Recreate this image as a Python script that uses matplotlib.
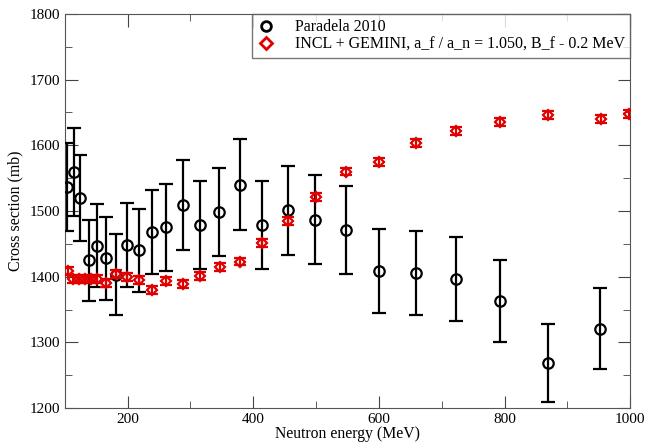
import matplotlib
matplotlib.use("Agg")
import matplotlib.pyplot as plt
from matplotlib.lines import Line2D
from matplotlib.ticker import MultipleLocator

plt.rcParams["font.family"] = ["Liberation Serif", "DejaVu Serif"]

# Paradela 2010 (measured)
exp_energy = [104, 115, 125, 139, 151, 166, 181.5, 198.5, 217.6, 239, 262, 288, 316,
              345.5, 379, 414, 456, 498.7, 547.6, 600, 659, 722, 792.6, 869, 952.7]
exp_xs = [1536, 1559, 1520, 1425, 1447, 1428, 1403, 1448, 1440, 1468, 1475, 1509, 1478,
          1499, 1540, 1478, 1501, 1487, 1471, 1409, 1406, 1397, 1363, 1269, 1321]
exp_err = [67, 67, 65, 62, 63, 63, 62, 64, 63, 64, 66, 68, 67,
           67, 69, 67, 68, 68, 67, 64, 64, 64, 63, 59, 62]

# INCL + GEMINI (calculation)
calc_energy = [104.6, 113.5, 122.6, 132, 142, 151, 165, 181.5, 198.5, 218, 239, 262, 288,
               316, 346.5, 379, 414, 456, 500, 547.6, 601, 659, 722.5, 792.6, 868.6, 953, 997.5]
calc_xs = [1408, 1397, 1397, 1397, 1396, 1396, 1390, 1404, 1399, 1395, 1380, 1393, 1389,
           1401, 1415, 1423, 1451, 1485, 1521, 1560, 1574, 1603, 1622, 1635, 1646, 1640, 1648]
calc_err = [6] * len(calc_energy)

labels = ["Paradela 2010", "INCL + GEMINI, a_f / a_n = 1.050, B_f - 0.2 MeV"]
red = "#e00000"

fig = plt.figure(figsize=(6.47, 4.46), dpi=100)
ax = fig.add_axes([0.1, 0.085, 0.874, 0.884])

ax.errorbar(exp_energy, exp_xs, yerr=exp_err, fmt="o", mfc="none", mec="black",
            ms=7.5, mew=1.6, ecolor="black", elinewidth=1.6, capsize=5, capthick=1.6,
            zorder=3)
ax.errorbar(calc_energy, calc_xs, yerr=calc_err, fmt="D", mfc="none", mec=red,
            ms=5.5, mew=1.6, ecolor=red, elinewidth=1.6, capsize=4, capthick=1.6,
            zorder=4)

ax.set_xlim(100, 1000)
ax.set_ylim(1200, 1800)
ax.xaxis.set_major_locator(MultipleLocator(200))
ax.xaxis.set_minor_locator(MultipleLocator(100))
ax.yaxis.set_major_locator(MultipleLocator(100))
ax.yaxis.set_minor_locator(MultipleLocator(50))
ax.tick_params(which="both", direction="in", top=True, right=True, labelsize=11,
               color="#444444")
ax.tick_params(which="major", length=9)
ax.tick_params(which="minor", length=5)
for s in ax.spines.values():
    s.set_color("#555555")

ax.set_xlabel("Neutron energy (MeV)", fontsize=11.3, labelpad=0)
ax.set_ylabel("Cross section (mb)", fontsize=11.4, labelpad=4)

handles = [
    Line2D([], [], ls="none", marker="o", mfc="none", mec="black", ms=7, mew=2),
    Line2D([], [], ls="none", marker="D", mfc="none", mec=red, ms=6, mew=2),
]
leg = ax.legend(handles, labels, loc="upper right", fontsize=11.5, frameon=True,
                fancybox=False, borderaxespad=0, handlelength=1.0, handletextpad=1.3,
                borderpad=0.35, labelspacing=0.05)
leg.get_frame().set_edgecolor("#555555")
leg.get_frame().set_linewidth(1.0)

fig.savefig("out.png", dpi=100)
